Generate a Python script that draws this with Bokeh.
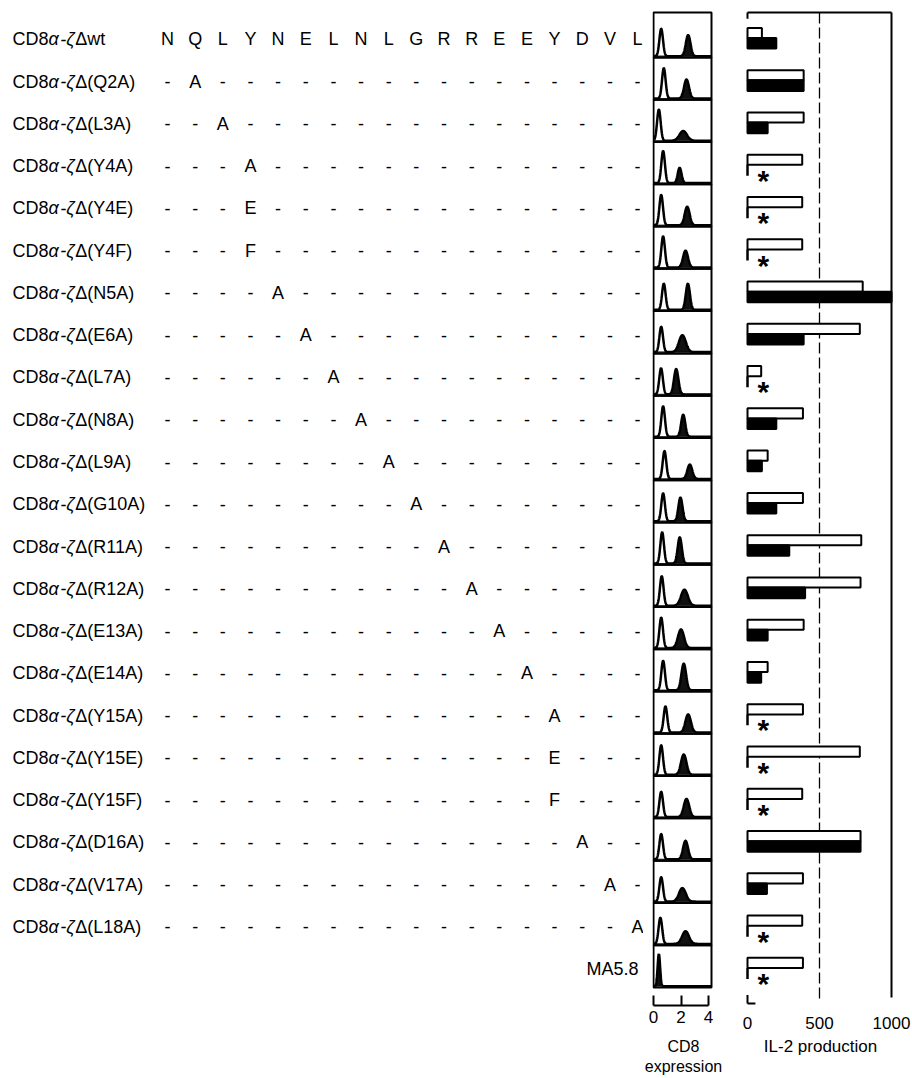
import numpy as np
from bokeh.plotting import figure
from bokeh.layouts import row
from bokeh.models import Range1d, ColumnDataSource, FixedTicker
from bokeh.core.properties import value
from bokeh.embed import file_html
from bokeh.resources import INLINE

# ---------------- data ----------------
wt_sequence = list("NQLYNELNLGRREEYDVL")
mutants = ["Q2A", "L3A", "Y4A", "Y4E", "Y4F", "N5A", "E6A", "L7A", "N8A", "L9A",
           "G10A", "R11A", "R12A", "E13A", "E14A", "Y15A", "Y15E", "Y15F", "D16A",
           "V17A", "L18A"]
control_label = "MA5.8"
row_names = ["wt"] + mutants + [control_label]

# CD8 expression histograms (log fluorescence, 0-4): outlined peak and filled peak
peak1_pos = [0.56, 0.75, 0.39, 0.70, 0.56, 0.70, 0.75, 0.56, 0.55, 0.70, 0.80, 0.70,
             0.63, 0.60, 0.56, 0.70, 0.87, 0.56, 0.56, 0.56, 0.56, 0.50, 0.39]
peak1_height = [0.65, 0.72, 0.74, 0.76, 0.72, 0.74, 0.62, 0.60, 0.62, 0.72, 0.66, 0.66,
                0.74, 0.70, 0.72, 0.70, 0.62, 0.70, 0.60, 0.60, 0.58, 0.62, 0.0]
peak2_pos = [2.52, 2.40, 2.16, 1.90, 2.45, 2.33, 2.50, 2.10, 1.65, 2.16, 2.64, 1.96,
             1.91, 2.25, 2.00, 2.20, 2.52, 2.20, 2.40, 2.33, 2.10, 2.33, 0.39]
peak2_height = [0.50, 0.45, 0.23, 0.36, 0.44, 0.40, 0.62, 0.40, 0.60, 0.52, 0.34, 0.56,
                0.62, 0.38, 0.44, 0.63, 0.43, 0.48, 0.43, 0.44, 0.32, 0.30, 0.76]
peak2_width = [0.17, 0.18, 0.28, 0.14, 0.18, 0.18, 0.15, 0.25, 0.16, 0.15, 0.18, 0.15,
               0.15, 0.25, 0.22, 0.17, 0.20, 0.20, 0.20, 0.18, 0.25, 0.25, 0.09]
peak1_width = 0.13

# IL-2 production (two conditions: open bar and filled bar)
il2_open = [100, 390, 390, 380, 380, 380, 800, 780, 95, 385, 140, 385, 790, 785, 390,
            140, 385, 780, 380, 785, 385, 380, 385]
il2_filled = [200, 390, 140, 0, 0, 0, 1000, 390, 0, 200, 100, 200, 290, 400, 140, 95,
              0, 0, 0, 785, 135, 0, 0]

cd8_ticks = [0, 2, 4]
il2_ticks = [0, 500, 1000]
il2_reference = 500

# ---------------- layout constants ----------------
FONT = "Liberation Sans"
ROW_PX = 42.27
ROW0_SCREEN = 14.73
TOP_SCREEN, BOTTOM_SCREEN = 0, 1005
y_start = (BOTTOM_SCREEN - ROW0_SCREEN) / ROW_PX
y_end = (TOP_SCREEN - ROW0_SCREEN) / ROW_PX
H = 1078
BB = H - BOTTOM_SCREEN
n_rows = len(row_names)
r = np.arange(n_rows)
box_top = r.astype(float)
box_top[0] = -0.064


def base_fig(width, x_range, mbl=0, mbr=0, axis=None):
    f = figure(width=width, height=H, x_range=x_range,
               y_range=Range1d(y_start, y_end), toolbar_location=None,
               output_backend="svg", x_axis_location=axis, y_axis_location=None,
               min_border_left=mbl, min_border_right=mbr, min_border_top=0,
               min_border_bottom=BB)
    f.outline_line_color = None
    f.grid.grid_line_color = None
    f.background_fill_color = "white"
    return f

# ---------------- figure A: labels and sequences ----------------
WA = 643
fa = base_fig(WA, Range1d(0, WA))
lab_x = 12
LFS = "18px"
lab_rows = r[:-1]
ly = lab_rows + 0.57
suffix = ["\u0394wt"] + ["\u0394(" + m + ")" for m in mutants]
n_lab = len(lab_rows)
fa.text(x=[lab_x] * n_lab, y=ly, text=["CD8"] * n_lab, text_font=value(FONT),
        text_font_size=LFS, text_baseline="middle", text_color="black")
for off, ch in [(36.0, "\u03b1"), (47.8, "-"), (53.8, "\u03b6")]:
    fa.text(x=[lab_x + off] * n_lab, y=ly, text=[ch] * n_lab, text_font=value(FONT),
            text_font_size=LFS, text_font_style="italic", text_baseline="middle",
            text_color="black")
fa.text(x=[lab_x + 62.8] * n_lab, y=ly, text=suffix, text_font=value(FONT),
        text_font_size=LFS, text_baseline="middle", text_color="black")

seq_x0, seq_dx = 167.0, 27.65
sx, sy, st = [], [], []
for j, aa in enumerate(wt_sequence):
    sx.append(seq_x0 + seq_dx * j); sy.append(0.57); st.append(aa)
for i, m in enumerate(mutants, start=1):
    pos = int(m[1:-1]) - 1
    for j in range(len(wt_sequence)):
        sx.append(seq_x0 + seq_dx * j); sy.append(i + 0.57)
        st.append(m[-1] if j == pos else "-")
fa.text(x=sx, y=sy, text=st, text_font=value(FONT), text_font_size="18px",
        text_align="center", text_baseline="middle", text_color="black")
fa.text(x=[638], y=[n_rows - 1 + 0.57], text=[control_label], text_font=value(FONT),
        text_font_size=LFS, text_align="right", text_baseline="middle",
        text_color="black")

# ---------------- figure B: CD8 histograms ----------------
px_per_unit = 13.75
fb = base_fig(80, Range1d((652 - 653) / px_per_unit, (714 - 653) / px_per_unit),
              mbl=9, mbr=9, axis="below")
box_right = (711 - 653) / px_per_unit
xg = np.linspace(0.04, box_right - 0.03, 260)
fill_xs, fill_ys, line_xs, line_ys = [], [], [], []
for i in range(n_rows):
    base = i + 1 - 0.03
    g1 = peak1_height[i] * np.exp(-0.5 * ((xg - peak1_pos[i]) / peak1_width) ** 2)
    g2 = peak2_height[i] * np.exp(-0.5 * ((xg - peak2_pos[i]) / peak2_width[i]) ** 2)
    fill_xs.append(np.concatenate([xg, xg[::-1]]))
    fill_ys.append(np.concatenate([base - g2, np.full_like(xg, base)]))
    line_xs.append(xg)
    line_ys.append(base - g1 - g2)
fb.patches(xs=fill_xs, ys=fill_ys, fill_color="#111111", line_color="#111111",
           line_width=1)
fb.multi_line(xs=line_xs, ys=line_ys, line_color="black", line_width=2.5)
fb.quad(left=0, right=box_right, top=box_top, bottom=r + 1.0, fill_color=None,
        line_color="black", line_width=2)
ax = fb.xaxis[0]
ax.ticker = FixedTicker(ticks=cd8_ticks)
ax.bounds = (cd8_ticks[0], cd8_ticks[-1])
ax.axis_line_width = 2
ax.axis_line_color = "black"
ax.major_tick_line_width = 2
ax.major_tick_line_color = "black"
ax.major_tick_in = 10
ax.major_tick_out = 0
ax.minor_tick_line_color = None
ax.major_label_text_font = FONT
ax.major_label_text_font_size = "17px"
ax.major_label_text_color = "black"
ax.major_label_standoff = 5
ax.axis_label = "CD8\nexpression"
ax.axis_label_text_font = FONT
ax.axis_label_text_font_size = "16px"
ax.axis_label_text_font_style = "normal"
ax.axis_label_text_color = "black"
ax.axis_label_standoff = 12

# ---------------- figure C: IL-2 production bars ----------------
il2_px = 0.144
fc = base_fig(189, Range1d((740 - 747) / il2_px, (900 - 747) / il2_px),
              mbl=17, mbr=12, axis="below")
top_y = (12 - ROW0_SCREEN) / ROW_PX
bottom_y = (997 - ROW0_SCREEN) / ROW_PX
fc.segment(x0=[0, 1000, 0], y0=[top_y, top_y, top_y], x1=[1000, 1000, 0],
           y1=[top_y, bottom_y, top_y + 0.15], line_color="black", line_width=2)
corner_y = (1003 - ROW0_SCREEN) / ROW_PX
fc.segment(x0=[0, 0], y0=[corner_y - 0.2, corner_y], x1=[0, 55], y1=[corner_y, corner_y],
           line_color="black", line_width=2)
fc.segment(x0=[il2_reference], y0=[top_y], x1=[il2_reference], y1=[corner_y - 0.1],
           line_color="black", line_width=1.3, line_dash="11 4")

src = ColumnDataSource(dict(o=il2_open, top=r + 0.30, bottom=r + 0.54))
fc.quad(left=0, right="o", top="top", bottom="bottom", source=src,
        fill_color="white", line_color="black", line_width=2)
nz = [i for i in range(n_rows) if il2_filled[i] > 0]
z = [i for i in range(n_rows) if il2_filled[i] == 0]
fc.quad(left=0, right=[il2_filled[i] for i in nz], top=[i + 0.54 for i in nz],
        bottom=[i + 0.79 for i in nz], fill_color="black", line_color="black",
        line_width=2)
fc.segment(x0=[0] * len(z), y0=[i + 0.54 for i in z], x1=[0] * len(z),
           y1=[i + 0.80 for i in z], line_color="black", line_width=2.5)
fc.text(x=[110] * len(z), y=[i + 0.72 for i in z], text=["*"] * len(z),
        text_font=value(FONT), text_font_size="30px", text_font_style="bold",
        text_align="center", text_baseline="middle", y_offset=8, text_color="black")

bx = fc.xaxis[0]
bx.ticker = FixedTicker(ticks=il2_ticks)
bx.axis_line_color = None
bx.major_tick_line_color = None
bx.minor_tick_line_color = None
bx.major_label_text_font = FONT
bx.major_label_text_font_size = "17px"
bx.major_label_text_color = "black"
bx.major_label_standoff = 5
bx.axis_label = "IL-2 production"
bx.axis_label_text_font = FONT
bx.axis_label_text_font_size = "17px"
bx.axis_label_text_font_style = "normal"
bx.axis_label_text_color = "black"
bx.axis_label_standoff = 5

layout = row(fa, fb, fc)
open("out.html", "w").write(file_html(layout, INLINE))
